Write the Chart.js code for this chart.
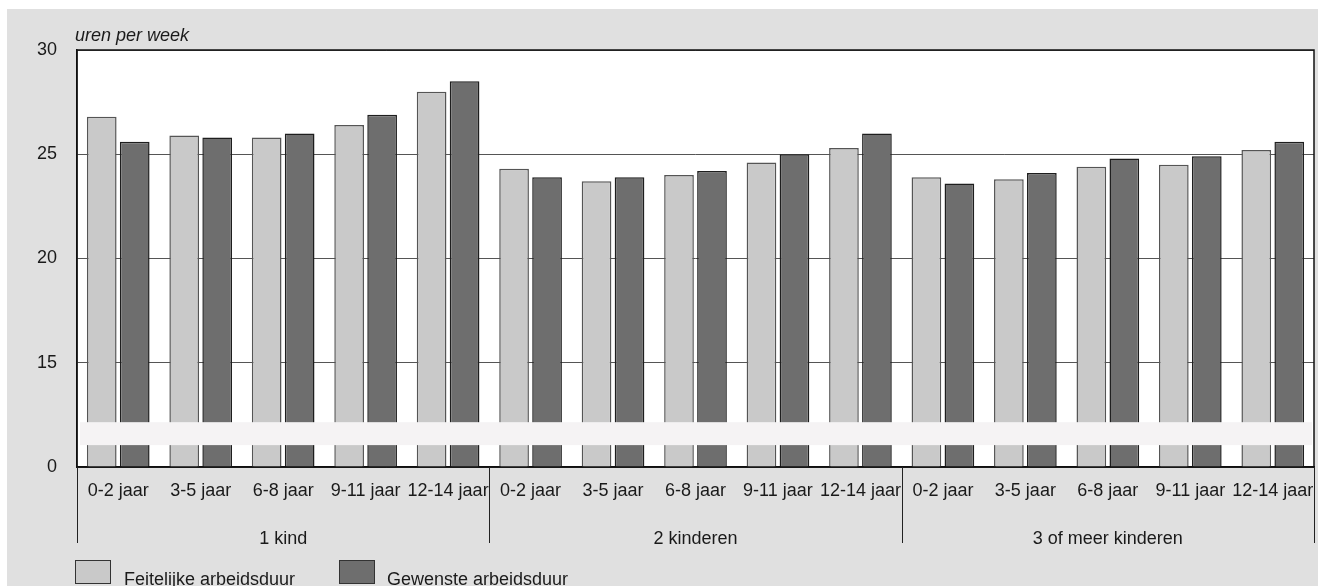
<!DOCTYPE html>
<html lang="nl">
<head>
<meta charset="utf-8">
<title>Feitelijke en gewenste arbeidsduur</title>
<script src="https://cdn.jsdelivr.net/npm/chart.js@4/dist/chart.umd.min.js"></script>
<style>
  html, body { margin: 0; padding: 0; background: #ffffff; }
  canvas { display: block; }
</style>
</head>
<body>
<canvas id="grafiek" width="1318" height="586"></canvas>
<script>
// data
const leeftijden = ["0-2 jaar", "3-5 jaar", "6-8 jaar", "9-11 jaar", "12-14 jaar"];
const groepen = ["1 kind", "2 kinderen", "3 of meer kinderen"];
const categorieen = groepen.flatMap(() => leeftijden);
const feitelijk = [26.8, 25.9, 25.8, 26.4, 28.0, 24.3, 23.7, 24.0, 24.6, 25.3, 23.9, 23.8, 24.4, 24.5, 25.2];
const gewenst = [25.6, 25.8, 26.0, 26.9, 28.5, 23.9, 23.9, 24.2, 25.0, 26.0, 23.6, 24.1, 24.8, 24.9, 25.6];
const legendaLabels = ["Feitelijke arbeidsduur", "Gewenste arbeidsduur"];
// y-as is onderbroken: de onderkant (10) wordt als 0 getoond
const yMin = 10;
const yMax = 30;
const yStap = 5;

const FONT = "'Liberation Sans', Arial, Helvetica, sans-serif";
const TEKST = "#1a1a1a";
const LICHT = "#c9c9c9";
const DONKER = "#6e6e6e";

const decor = {
  id: "decor",
  beforeDraw(chart) {
    const { ctx, chartArea: a, width, height } = chart;
    ctx.save();
    ctx.fillStyle = "#ffffff";
    ctx.fillRect(0, 0, width, height);
    ctx.fillStyle = "#e0e0e0";
    ctx.fillRect(7, 9, width - 7, height - 9);
    ctx.fillStyle = "#ffffff";
    ctx.fillRect(a.left, a.top, a.right - a.left, a.bottom - a.top);
    ctx.restore();
  },
  afterDatasetsDraw(chart) {
    const { ctx, chartArea: a } = chart;
    const y = chart.scales.y;
    // markering van de asbreuk
    const y1 = y.getPixelForValue(12.15);
    const y2 = y.getPixelForValue(11.05);
    ctx.save();
    ctx.fillStyle = "#f5f3f4";
    ctx.fillRect(a.left + 3, y1, a.right - a.left - 5, y2 - y1);
    // kader
    ctx.strokeStyle = "#111111";
    ctx.lineWidth = 1.5;
    ctx.strokeRect(a.left, a.top, a.right - a.left, a.bottom - a.top);
    ctx.restore();
  },
  afterDraw(chart) {
    const { ctx, chartArea: a } = chart;
    const x = chart.scales.x;
    const stap = x.getPixelForValue(1) - x.getPixelForValue(0);
    ctx.save();
    ctx.fillStyle = TEKST;
    ctx.font = "italic 18px " + FONT;
    ctx.textBaseline = "alphabetic";
    ctx.fillText("uren per week", 75, 41);

    // groepsscheidingen en groepslabels
    ctx.strokeStyle = "#222222";
    ctx.lineWidth = 1;
    for (let g = 0; g <= groepen.length; g++) {
      const i = g * leeftijden.length;
      const px = Math.round(x.getPixelForValue(Math.min(i, categorieen.length - 1)) + (i < categorieen.length ? -stap / 2 : stap / 2)) + 0.5;
      ctx.beginPath();
      ctx.moveTo(px, a.bottom);
      ctx.lineTo(px, 543);
      ctx.stroke();
    }
    ctx.font = "18px " + FONT;
    ctx.textAlign = "center";
    groepen.forEach((naam, g) => {
      const eerste = x.getPixelForValue(g * leeftijden.length);
      const laatste = x.getPixelForValue(g * leeftijden.length + leeftijden.length - 1);
      ctx.fillText(naam, (eerste + laatste) / 2, 544);
    });

    // legenda
    ctx.textAlign = "left";
    const items = [
      { x: 75, tx: 124, kleur: LICHT },
      { x: 339, tx: 387, kleur: DONKER }
    ];
    items.forEach((it, i) => {
      ctx.fillStyle = it.kleur;
      ctx.fillRect(it.x, 560.5, 35, 23);
      ctx.strokeStyle = "#333333";
      ctx.lineWidth = 1;
      ctx.strokeRect(it.x + 0.5, 560.5, 35, 23);
      ctx.fillStyle = TEKST;
      ctx.fillText(chart.data.datasets[i].label, it.tx, 585);
    });
    ctx.restore();
  }
};

new Chart(document.getElementById("grafiek"), {
  type: "bar",
  data: {
    labels: categorieen,
    datasets: [
      {
        label: legendaLabels[0],
        data: feitelijk,
        backgroundColor: LICHT,
        borderColor: "#555555",
        borderWidth: 1.5,
        borderSkipped: "bottom"
      },
      {
        label: legendaLabels[1],
        data: gewenst,
        backgroundColor: DONKER,
        borderColor: "#1e1e1e",
        borderWidth: 1.5,
        borderSkipped: "bottom"
      }
    ]
  },
  options: {
    responsive: false,
    devicePixelRatio: 1,
    animation: false,
    layout: { padding: { top: 50, right: 4, left: 0, bottom: 0 } },
    plugins: {
      legend: { display: false },
      tooltip: { enabled: false }
    },
    scales: {
      x: {
        afterFit(scale) { scale.height = 119; },
        grid: {
          display: true,
          drawOnChartArea: false,
          drawTicks: true,
          tickLength: 13,
          tickColor: "rgba(0,0,0,0)"
        },
        border: { display: true, color: "#111111", width: 1.5 },
        ticks: {
          color: TEKST,
          font: { family: FONT, size: 18 },
          padding: 0,
          maxRotation: 0,
          autoSkip: false
        },
        categoryPercentage: 0.8,
        barPercentage: 1.0
      },
      y: {
        min: yMin,
        max: yMax,
        afterFit(scale) { scale.width = 77; },
        grid: { color: "#555555", lineWidth: 1, drawTicks: false },
        border: { display: true, color: "#111111", width: 1.5 },
        ticks: {
          stepSize: yStap,
          color: TEKST,
          font: { family: FONT, size: 18 },
          padding: 20,
          callback: v => (v === yMin ? "0" : String(v))
        }
      }
    }
  },
  plugins: [decor]
});
</script>
</body>
</html>
